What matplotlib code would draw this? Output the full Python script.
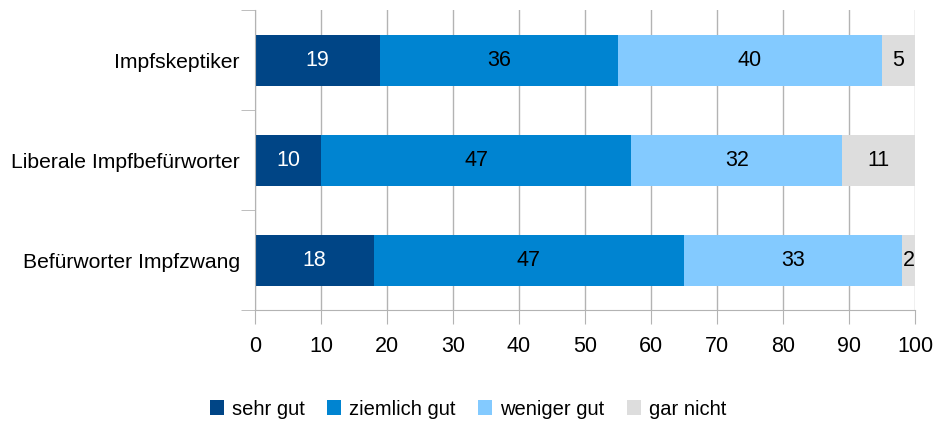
import matplotlib.pyplot as plt
import numpy as np

plt.rcParams['font.family'] = ['Liberation Sans', 'DejaVu Sans']

categories = ['Impfskeptiker', 'Liberale Impfbefürworter', 'Befürworter Impfzwang']
series = ['sehr gut', 'ziemlich gut', 'weniger gut', 'gar nicht']
sehr_gut = [19, 10, 18]
ziemlich_gut = [36, 47, 47]
weniger_gut = [40, 32, 33]
gar_nicht = [5, 11, 2]
colors = ['#004586', '#0084d1', '#83caff', '#dddddd']
text_colors = ['white', 'black', 'black', 'black']

fig = plt.figure(figsize=(9.37, 4.26), dpi=100)
ax = fig.add_axes([255 / 937, 1 - 310 / 426, 660 / 937, 300 / 426])

y = np.arange(len(categories))[::-1]
left = np.zeros(len(categories))
for name, vals, c, tc in zip(series, [sehr_gut, ziemlich_gut, weniger_gut, gar_nicht], colors, text_colors):
    bars = ax.barh(y, vals, left=left, height=0.51, color=c, label=name, zorder=2)
    ax.bar_label(bars, labels=[str(v) for v in vals], label_type='center', color=tc, fontsize=15.5)
    left += vals

ax.set_xlim(0, 100)
ax.set_ylim(-0.5, 2.5)
ax.set_xticks(np.arange(0, 101, 10))
ax.set_yticks(y)
ax.set_yticklabels(categories)
ax.set_yticks([-0.5, 0.5, 1.5, 2.5], minor=True)
ax.tick_params(axis='y', which='major', length=0, pad=11, labelsize=15.2)
ax.tick_params(axis='y', which='minor', length=10, color='#b3b3b3')
ax.tick_params(axis='x', length=10, color='#b3b3b3', labelsize=15.5, pad=9)
ax.grid(axis='x', color='#b3b3b3', linewidth=1, zorder=0)
for s in ['top', 'right']:
    ax.spines[s].set_visible(False)
for s in ['left', 'bottom']:
    ax.spines[s].set_color('#b3b3b3')

fig.legend(loc='lower center', bbox_to_anchor=(468 / 937, -0.025), ncol=4, frameon=False,
           fontsize=14.5, handlelength=0.7, handleheight=0.7, handletextpad=0.4, columnspacing=1.1)

fig.savefig('out.png', dpi=100)
